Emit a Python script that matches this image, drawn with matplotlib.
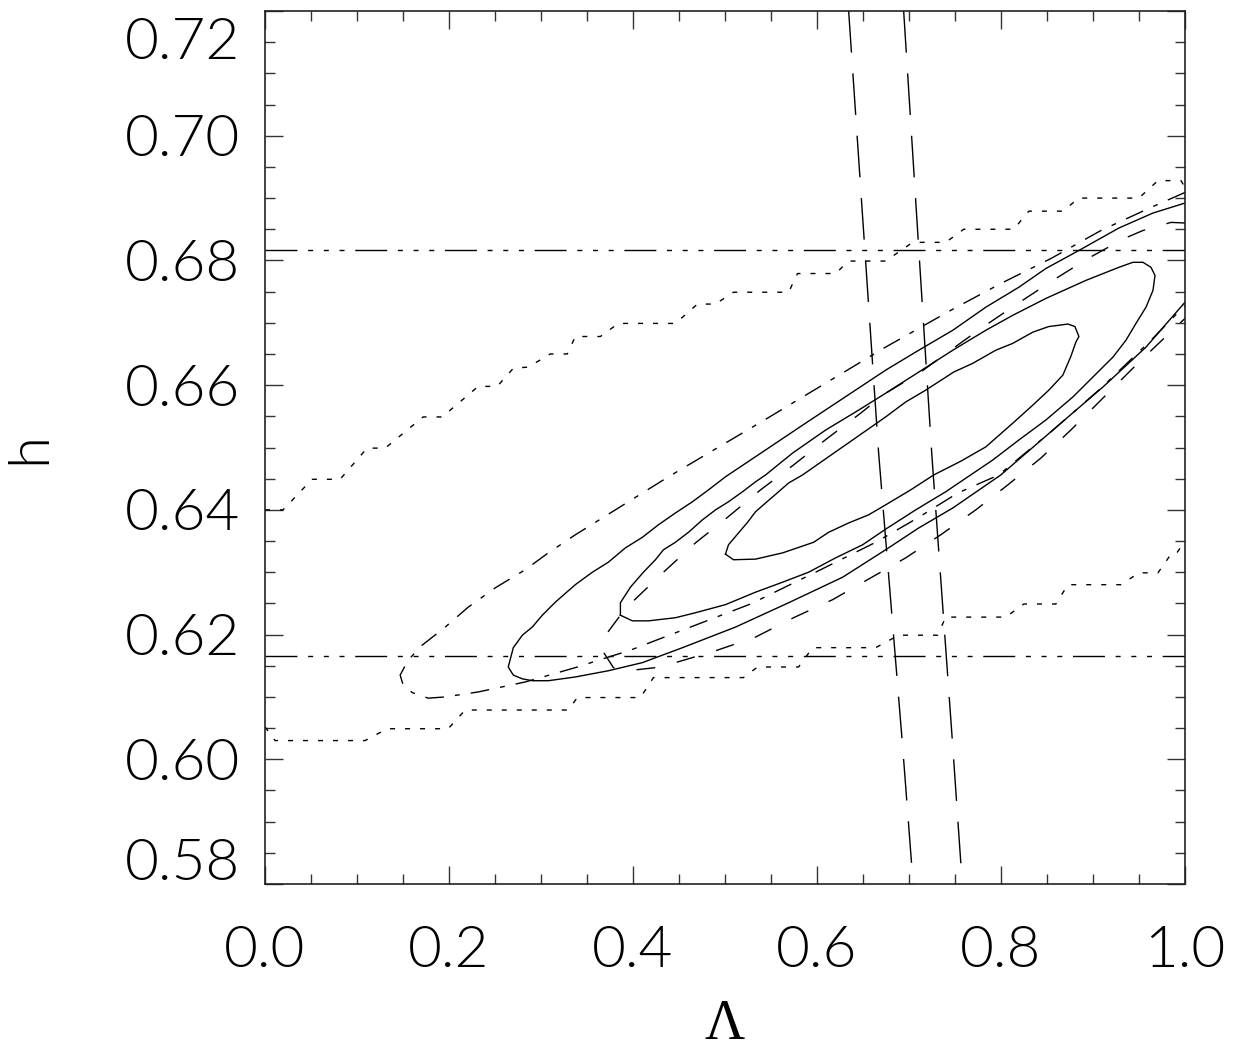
import matplotlib
matplotlib.use('Agg')
import matplotlib.pyplot as plt
import numpy as np
from matplotlib.transforms import ScaledTranslation

# inner solid contour (closed)
inner_x = [0.5005, 0.5038, 0.5147, 0.5245, 0.5332, 0.5441, 0.5582, 0.5691, 0.5843, 0.6746,
           0.6964, 0.7182, 0.7486, 0.7693, 0.7943, 0.8128, 0.8346, 0.8520, 0.8629, 0.8727,
           0.8803, 0.8847, 0.8814, 0.8759, 0.8672, 0.8520, 0.8346, 0.8128, 0.7835, 0.7563,
           0.7269, 0.7018, 0.6746, 0.6561, 0.6344, 0.6126, 0.5963, 0.5626, 0.5332, 0.5092, 0.5005]
inner_h = [0.6329, 0.6344, 0.6363, 0.6380, 0.6397, 0.6411, 0.6429, 0.6443, 0.6456, 0.6549,
           0.6573, 0.6592, 0.6621, 0.6635, 0.6656, 0.6667, 0.6685, 0.6694, 0.6696, 0.6698,
           0.6694, 0.6678, 0.6669, 0.6646, 0.6616, 0.6592, 0.6568, 0.6539, 0.6501, 0.6478,
           0.6456, 0.6432, 0.6408, 0.6392, 0.6379, 0.6364, 0.6348, 0.6331, 0.6321, 0.6320, 0.6329]

# middle solid contour (closed)
mid_x = [0.3863, 0.3994, 0.4168, 0.4461, 0.4679, 0.5005, 0.5332, 0.5626, 0.5909, 0.6202,
         0.6496, 0.6746, 0.7073, 0.7399, 0.7650, 0.7911, 0.8194, 0.8487, 0.8781, 0.8999,
         0.9217, 0.9358, 0.9467, 0.9576, 0.9652, 0.9674, 0.9630, 0.9543, 0.9434, 0.9282,
         0.8923, 0.8487, 0.8128, 0.7835, 0.7476, 0.7106, 0.6746, 0.6453, 0.6094, 0.5734,
         0.5441, 0.5332, 0.5190, 0.5038, 0.4897, 0.4755, 0.4603, 0.4461, 0.4331, 0.4244,
         0.4113, 0.3972, 0.3863, 0.3863]
mid_h = [0.6231, 0.6222, 0.6222, 0.6227, 0.6235, 0.6248, 0.6268, 0.6284, 0.6300, 0.6323,
         0.6344, 0.6369, 0.6400, 0.6429, 0.6454, 0.6480, 0.6512, 0.6544, 0.6581, 0.6613,
         0.6645, 0.6672, 0.6699, 0.6725, 0.6752, 0.6776, 0.6789, 0.6797, 0.6797, 0.6789,
         0.6768, 0.6739, 0.6712, 0.6688, 0.6656, 0.6621, 0.6587, 0.6560, 0.6528, 0.6491,
         0.6456, 0.6445, 0.6429, 0.6413, 0.6400, 0.6384, 0.6364, 0.6348, 0.6336, 0.6320,
         0.6300, 0.6276, 0.6251, 0.6231]

# outer solid contour (open at the right edge)
outer_x = [1.0, 0.9652, 0.9282, 0.8847, 0.8487, 0.8194, 0.7835, 0.7476, 0.7106, 0.6746,
           0.5876, 0.5005, 0.4820, 0.4646, 0.4461, 0.4276, 0.4102, 0.3917, 0.3732, 0.3558,
           0.3373, 0.3156, 0.3014, 0.2905, 0.2797, 0.2699, 0.2644, 0.2699, 0.2797, 0.2905,
           0.3079, 0.3373, 0.3732, 0.4102, 0.4538, 0.5114, 0.5691, 0.6279, 0.6746, 0.7106,
           0.7476, 0.7998, 0.8564, 0.9108, 0.9576, 1.0]
outer_h = [0.6892, 0.6876, 0.6852, 0.6816, 0.6787, 0.6757, 0.6725, 0.6688, 0.6656, 0.6624,
           0.6539, 0.6453, 0.6432, 0.6413, 0.6395, 0.6376, 0.6356, 0.6339, 0.6316, 0.6300,
           0.6280, 0.6252, 0.6231, 0.6212, 0.6199, 0.6179, 0.6148, 0.6135, 0.6129, 0.6126,
           0.6126, 0.6132, 0.6142, 0.6155, 0.6179, 0.6212, 0.6251, 0.6292, 0.6336, 0.6371,
           0.6403, 0.6456, 0.6528, 0.6597, 0.6661, 0.6733]

# dash-dot contour
dd_x = [1.0, 0.9630, 0.9086, 0.8542, 0.7998, 0.7454, 0.6746, 0.6148, 0.5462, 0.4820,
        0.4385, 0.3950, 0.3373, 0.3079, 0.2829, 0.2503, 0.2209, 0.1959, 0.1708, 0.1556,
        0.1469, 0.1502, 0.1600, 0.1774, 0.1959, 0.2318, 0.2829, 0.3373, 0.3971, 0.4571,
        0.5277, 0.5985, 0.6638, 0.7094, 0.7530, 0.7976, 0.8542, 0.9086, 0.9630, 1.0]
dd_h = [0.6909, 0.6885, 0.6848, 0.6803, 0.6763, 0.6720, 0.6661, 0.6608, 0.6547, 0.6491,
        0.6453, 0.6413, 0.6360, 0.6331, 0.6304, 0.6275, 0.6244, 0.6212, 0.6183, 0.6159,
        0.6135, 0.6119, 0.6107, 0.6098, 0.6100, 0.6108, 0.6124, 0.6147, 0.6175, 0.6209,
        0.6249, 0.6300, 0.6348, 0.6387, 0.6427, 0.6456, 0.6525, 0.6595, 0.6672, 0.6728]

# dashed contour
ld_x = [1.0, 0.9848, 0.9543, 0.9336, 0.8944, 0.8564, 0.8183, 0.7802, 0.7508, 0.7127,
        0.6746, 0.6474, 0.6115, 0.5745, 0.5386, 0.5027, 0.4679, 0.4331, 0.4005, 0.3863,
        0.3722, 0.3667, 0.3678, 0.3787, 0.4005, 0.4244, 0.4461, 0.4897, 0.5332, 0.5745,
        0.6170, 0.6561, 0.6964, 0.7345, 0.7726, 0.8074, 0.8433, 0.8759, 0.9086, 0.9521, 1.0]
ld_h = [0.6860, 0.6861, 0.6848, 0.6835, 0.6803, 0.6768, 0.6731, 0.6693, 0.6662, 0.6621,
        0.6587, 0.6555, 0.6515, 0.6472, 0.6432, 0.6388, 0.6347, 0.6300, 0.6254, 0.6231,
        0.6203, 0.6180, 0.6172, 0.6147, 0.6143, 0.6147, 0.6155, 0.6174, 0.6196, 0.6227,
        0.6256, 0.6289, 0.6323, 0.6360, 0.6400, 0.6440, 0.6483, 0.6528, 0.6576, 0.6640, 0.6707]

# dotted staircases
up_dot_x = [0.0, 0.0196, 0.0511, 0.0816, 0.1110, 0.1306, 0.1719, 0.1926, 0.2318, 0.2524,
            0.2699, 0.2862, 0.3101, 0.3286, 0.3373, 0.3645, 0.3841, 0.4461, 0.4701, 0.4896,
            0.5092, 0.5691, 0.5789, 0.6202, 0.6344, 0.6746, 0.7040, 0.7399, 0.7595, 0.8139,
            0.8302, 0.8672, 0.8846, 0.9499, 0.9706, 0.9956, 1.0]
up_dot_h = [0.6400, 0.6400, 0.6449, 0.6449, 0.6499, 0.6499, 0.6549, 0.6549, 0.6598, 0.6598,
            0.6627, 0.6629, 0.6650, 0.6650, 0.6678, 0.6678, 0.6699, 0.6699, 0.6730, 0.6730,
            0.6749, 0.6749, 0.6779, 0.6779, 0.6799, 0.6799, 0.6829, 0.6829, 0.6850, 0.6850,
            0.6879, 0.6879, 0.6900, 0.6900, 0.6928, 0.6928, 0.6917]
lo_dot_x = [0.0, 0.0109, 0.1088, 0.1328, 0.1991, 0.2176, 0.3297, 0.3395, 0.4081, 0.4222,
            0.5201, 0.5354, 0.5800, 0.5952, 0.6638, 0.6888, 0.7312, 0.7399, 0.8052, 0.8248,
            0.8596, 0.8727, 0.9304, 0.9499, 0.9706, 0.9848, 0.9902, 1.0]
lo_dot_h = [0.6052, 0.6030, 0.6030, 0.6049, 0.6049, 0.6079, 0.6079, 0.6099, 0.6099, 0.6131,
            0.6131, 0.6148, 0.6148, 0.6179, 0.6179, 0.6199, 0.6199, 0.6228, 0.6228, 0.6249,
            0.6249, 0.6280, 0.6280, 0.6299, 0.6299, 0.6329, 0.6329, 0.6350]

# near-vertical long-dashed constraint lines
vl_h = [0.72, 0.6491, 0.6020, 0.58]
vl_left_x = [0.6344, 0.6670, 0.6931, 0.7045]
vl_right_x = [0.6942, 0.7247, 0.7476, 0.7579]

# horizontal dash-dot-dot-dot lines
h_levels = [0.6816, 0.6166]

x_ticks = [0.0, 0.2, 0.4, 0.6, 0.8, 1.0]
y_ticks = [0.58, 0.60, 0.62, 0.64, 0.66, 0.68, 0.70, 0.72]

fig = plt.figure(figsize=(12.41, 10.57), dpi=100)
ax = fig.add_axes([265 / 1241, (1057 - 884) / 1057, (1185 - 265) / 1241, (884 - 11) / 1057])

lw = 1.0
ax.plot(inner_x, inner_h, color='black', lw=lw)
ax.plot(mid_x, mid_h, color='black', lw=lw)
ax.plot(outer_x, outer_h, color='black', lw=lw)
ax.plot(dd_x, dd_h, color='black', lw=lw, linestyle=(0, (13.5, 8, 3.5, 8)))
ax.plot(ld_x, ld_h, color='black', lw=lw, linestyle=(0, (13.5, 16)))
ax.plot(up_dot_x, up_dot_h, color='black', lw=lw, linestyle=(0, (3.6, 7.2)))
ax.plot(lo_dot_x, lo_dot_h, color='black', lw=lw, linestyle=(0, (3.6, 7.2)))
ax.plot(vl_left_x, vl_h, color='black', lw=lw, linestyle=(0, (30, 15)))
ax.plot(vl_right_x, vl_h, color='black', lw=lw, linestyle=(0, (30, 15)))
for hv in h_levels:
    ax.axhline(hv, color='black', lw=lw,
               linestyle=(0, (23, 7.7, 3.6, 7.7, 3.6, 7.7, 3.6, 7.7)))

ax.set_xlim(0, 1)
ax.set_ylim(0.58, 0.72)
ax.set_xticks(x_ticks)
ax.set_xticks(np.arange(0, 1.0001, 0.05), minor=True)
ax.set_yticks(y_ticks)
ax.set_yticks(np.arange(0.58, 0.72001, 0.005), minor=True)
ax.set_xticklabels([f'{v:.1f}' for v in x_ticks])
ax.set_yticklabels([f'{v:.2f}' for v in y_ticks])

for s in ax.spines.values():
    s.set_linewidth(1.2)
    s.set_color('#222222')

ax.tick_params(which='both', direction='in', top=True, right=True, width=1.0, color='#333333')
ax.tick_params(which='major', length=13)
ax.tick_params(which='minor', length=7)
ax.tick_params(axis='x', pad=30)
ax.tick_params(axis='y', pad=18)
for lab in ax.get_xticklabels() + ax.get_yticklabels():
    lab.set_fontfamily('Lato')
    lab.set_fontweight(300)
    lab.set_fontsize(42)
    lab.set_color('black')

ax.set_ylabel('h', family='Lato', weight=300, size=42, color='black', labelpad=50)
ax.set_xlabel('\u039b', family='Liberation Serif', size=40, labelpad=16)

# IDL nudges the end labels inward
ylabs = ax.get_yticklabels()
ylabs[0].set_transform(ylabs[0].get_transform() + ScaledTranslation(0, 0.24, fig.dpi_scale_trans))
ylabs[-1].set_transform(ylabs[-1].get_transform() + ScaledTranslation(0, -0.27, fig.dpi_scale_trans))

fig.savefig('out.png', dpi=100)
